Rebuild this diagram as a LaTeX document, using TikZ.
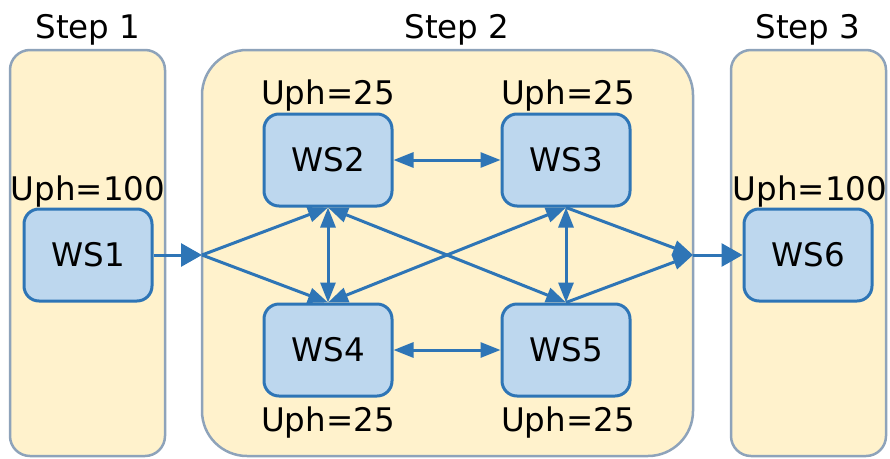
\documentclass[tikz,border=0pt]{standalone}
\usepackage{fontspec}
\setmainfont{DejaVu Sans}
\usetikzlibrary{arrows.meta}
\definecolor{panelfill}{HTML}{FFF2CC}
\definecolor{panelline}{HTML}{8EA3BA}
\definecolor{wsfill}{HTML}{BDD7EE}
\definecolor{wsline}{HTML}{2E75B6}
\begin{document}
\begin{tikzpicture}[x=1pt,y=-1pt,
  font=\fontsize{32.5}{38}\selectfont,
  panel/.style={draw=panelline, fill=panelfill, line width=2.5pt},
  ws/.style={draw=wsline, fill=wsfill, line width=3pt, rounded corners=15pt,
    minimum width=128pt, minimum height=92pt, inner sep=0pt},
  lbl/.style={anchor=base, inner sep=0pt},
  flow/.style={draw=wsline, line width=3pt, -{Triangle[length=20pt,width=15pt]}},
  both/.style={draw=wsline, line width=3pt,
    {Triangle[length=20pt,width=15pt]}-{Triangle[length=20pt,width=15pt]}},
  bigflow/.style={draw=wsline, line width=3pt, -{Triangle[length=21pt,width=23pt]}}
]
\useasboundingbox (0,0) rectangle (890,458);

% stage panels
\draw[panel, rounded corners=20pt] (10,50) rectangle (165,456);
\draw[panel, rounded corners=45pt] (202,50) rectangle (693,456);
\draw[panel, rounded corners=20pt] (731,50) rectangle (886,456);

% stage titles
\node[lbl] (t1) at (88,38) {Step 1};
\node[lbl] (t2) at (457,38) {Step 2};
\node[lbl] (t3) at (808,38) {Step 3};

% workstations
\node[ws] (ws1) at (88,255) {WS1};
\node[ws] (ws2) at (328,160) {WS2};
\node[ws] (ws3) at (566,160) {WS3};
\node[ws] (ws4) at (328,350) {WS4};
\node[ws] (ws5) at (566,350) {WS5};
\node[ws] (ws6) at (808,255) {WS6};

% throughput labels
\node[lbl] (u1) at (88,200) {Uph=100};
\node[lbl] (u2) at (328,104) {Uph=25};
\node[lbl] (u3) at (568,104) {Uph=25};
\node[lbl] (u4) at (328,431) {Uph=25};
\node[lbl] (u5) at (568,431) {Uph=25};
\node[lbl] (u6) at (810,200) {Uph=100};

% split and merge points on the step 2 border
\coordinate (j1) at (202,255);
\coordinate (j2) at (693,255);

% connectors
\draw[bigflow] (ws1.east) -- (j1);
\draw[flow] (j1) -- (ws2.south);
\draw[flow] (j1) -- (ws4.north);
\draw[both] (ws2.east) -- (ws3.west);
\draw[both] (ws4.east) -- (ws5.west);
\draw[both] (ws2.south) -- (ws4.north);
\draw[both] (ws3.south) -- (ws5.north);
\draw[both] (ws2.south) -- (ws5.north);
\draw[both] (ws3.south) -- (ws4.north);
\draw[flow] (ws3.south) -- (j2);
\draw[flow] (ws5.north) -- (j2);
\draw[bigflow] (j2) -- (ws6.west);
\end{tikzpicture}
\end{document}
